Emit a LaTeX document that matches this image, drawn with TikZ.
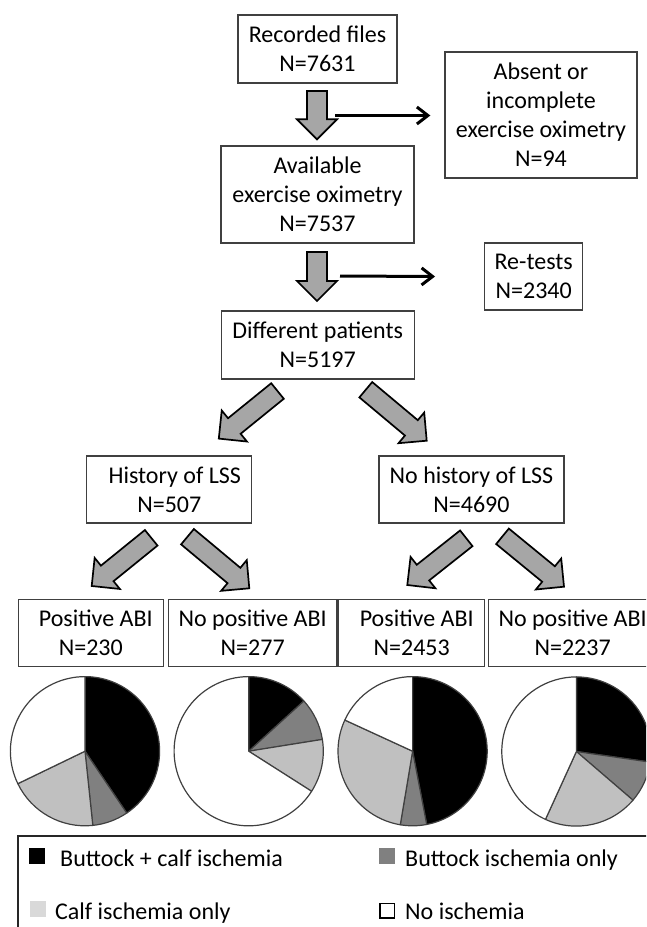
\documentclass[tikz,border=0pt]{standalone}
\usepackage{fontspec}
\setmainfont{Carlito}
\usetikzlibrary{calc}
\usetikzlibrary{arrows.meta}
\definecolor{boxline}{HTML}{404040}
\definecolor{arrowgray}{HTML}{A6A6A6}
\definecolor{midgray}{HTML}{808080}
\definecolor{calfgray}{HTML}{C0C0C0}
\definecolor{keygray}{HTML}{D9D9D9}
\tikzset{%
    box/.style={draw=boxline,line width=1.3pt,inner sep=0pt,align=center,font=\fontsize{24pt}{29pt}\selectfont},
    fat arrow/.style={draw=black,line width=1.7pt,fill=arrowgray,line join=miter,
        to path={($(\tikztostart)!10pt!90:(\tikztotarget)$) -- ($(\tikztotarget)!22.36pt!-26.57:(\tikztostart)$)
            -- ($(\tikztotarget)!28.28pt!-45:(\tikztostart)$) -- (\tikztotarget)
            -- ($(\tikztotarget)!28.28pt!45:(\tikztostart)$) -- ($(\tikztotarget)!22.36pt!26.57:(\tikztostart)$)
            -- ($(\tikztostart)!10pt!-90:(\tikztotarget)$) -- cycle}},
    thin arrow/.style={->,line width=3pt},
    slice/.style={draw=boxline,line width=1.2pt,line join=round},
    key/.style={inner sep=0pt,minimum size=16pt},
    legend/.style={anchor=base west,inner sep=0pt,font=\fontsize{24pt}{29pt}\selectfont},
}

\begin{document}
\begin{tikzpicture}[x=1pt,y=-1pt,>={Straight Barb[length=11pt,width=17pt]}]
        \path[use as bounding box,clip] (0,0) rectangle (646,927);

        \node[box,minimum width=159pt,minimum height=68pt] (rec) at (317.5,49) {Recorded files\\N=7631};
        \node[box,minimum width=192pt,minimum height=126pt] (absent) at (541,115) {Absent or\\incomplete\\exercise oximetry\\N=94};
        \node[box,minimum width=193pt,minimum height=97pt] (avail) at (317.5,194.5) {Available\\exercise oximetry\\N=7537};
        \node[box,minimum width=98pt,minimum height=67pt] (retest) at (533.7,276.5) {Re-tests\\N=2340};
        \node[box,minimum width=193pt,minimum height=68pt] (diff) at (317.7,345) {Different patients\\N=5197};
        \node[box,minimum width=165pt,minimum height=67pt] (lss) at (169.3,489.5) {\hspace*{11pt}History of LSS\\N=507};
        \node[box,minimum width=185pt,minimum height=67pt] (nolss) at (471.5,489.5) {No history of LSS\\N=4690};
        \node[box,minimum width=145pt,minimum height=67pt] (abi1) at (90.8,633) {\hspace*{10pt}Positive ABI\\N=230};
        \node[box,minimum width=168.5pt,minimum height=67pt] (noabi1) at (252.7,633) {No positive ABI\\N=277};
        \node[box,minimum width=146pt,minimum height=67pt] (abi2) at (411.7,633) {\hspace*{10pt}Positive ABI\\N=2453};
        \node[box,minimum width=168.5pt,minimum height=67pt] (noabi2) at (572.6,633) {No positive ABI\\N=2237};

        \coordinate (rec-out) at (317,91);
        \coordinate (avail-in) at (317,139.3);
        \coordinate (avail-out) at (317,252);
        \coordinate (diff-in) at (317,301);
        \coordinate (lss-out) at (277.5,391);
        \coordinate (lss-in) at (218.8,438.6);
        \coordinate (nolss-out) at (365.8,389.7);
        \coordinate (nolss-in) at (426.7,440.7);
        \coordinate (abi1-out) at (151.2,537.8);
        \coordinate (abi1-in) at (91.7,586);
        \coordinate (noabi1-out) at (187.5,536.7);
        \coordinate (noabi1-in) at (249.3,588.3);
        \coordinate (abi2-out) at (466.3,538.3);
        \coordinate (abi2-in) at (407.3,585);
        \coordinate (noabi2-out) at (502.5,536.3);
        \coordinate (noabi2-in) at (564,586.7);

        \draw[fat arrow] (rec-out) to (avail-in);
        \draw[fat arrow] (avail-out) to (diff-in);
        \draw[fat arrow] (lss-out) to (lss-in);
        \draw[fat arrow] (nolss-out) to (nolss-in);
        \draw[fat arrow] (abi1-out) to (abi1-in);
        \draw[fat arrow] (noabi1-out) to (noabi1-in);
        \draw[fat arrow] (abi2-out) to (abi2-in);
        \draw[fat arrow] (noabi2-out) to (noabi2-in);

        \coordinate (cut1) at (335,115.5);
        \coordinate (cut2) at (340,276);
        \draw[thin arrow] (cut1) -- ($(absent.west)+(-14,0.5)$);
        \draw[thin arrow] (cut2) -- ($(retest.west)+(-49,0)$);

        \coordinate (pie1) at (85,751.2);
        \coordinate (pie2) at (248.7,751.2);
        \coordinate (pie3) at (412.6,751.2);
        \coordinate (pie4) at (576.4,751.5);
        \foreach \from/\to/\col in {-90/56/black,56/84/midgray,84/154.2/calfgray,154.2/270/white}
            \filldraw[slice,fill=\col] (pie1) -- ++(\from:74.6) arc[start angle=\from,end angle=\to,radius=74.6] -- cycle;
        \foreach \from/\to/\col in {-90/-42.3/black,-42.3/-9.1/midgray,-9.1/32.5/calfgray,32.5/270/white}
            \filldraw[slice,fill=\col] (pie2) -- ++(\from:74.6) arc[start angle=\from,end angle=\to,radius=74.6] -- cycle;
        \foreach \from/\to/\col in {-90/79.1/black,79.1/99.5/midgray,99.5/204.7/calfgray,204.7/270/white}
            \filldraw[slice,fill=\col] (pie3) -- ++(\from:74.6) arc[start angle=\from,end angle=\to,radius=74.6] -- cycle;
        \foreach \from/\to/\col in {-90/8.2/black,8.2/40.7/midgray,40.7/114.5/calfgray,114.5/270/white}
            \filldraw[slice,fill=\col] (pie4) -- ++(\from:74.6) arc[start angle=\from,end angle=\to,radius=74.6] -- cycle;

        \draw[line width=2pt,draw=black!85] (18.3,835.7) rectangle (700,1000);
        \node[key,fill=black] (kboth) at (37.2,856.2) {};
        \node[key,fill=midgray] (kbutt) at (387.2,855.8) {};
        \node[key,fill=keygray] (kcalf) at (37.7,909.2) {};
        \node[key,minimum size=14.5pt,draw=black,line width=1.5pt,fill=white] (knone) at (387.2,910.5) {};
        \node[legend] (tboth) at (60,866) {Buttock + calf ischemia};
        \node[legend] (tbutt) at (405,866) {Buttock ischemia only};
        \node[legend] (tcalf) at (55,919.5) {Calf ischemia only};
        \node[legend] (tnone) at (405,919) {No ischemia};
      \end{tikzpicture}
\end{document}
